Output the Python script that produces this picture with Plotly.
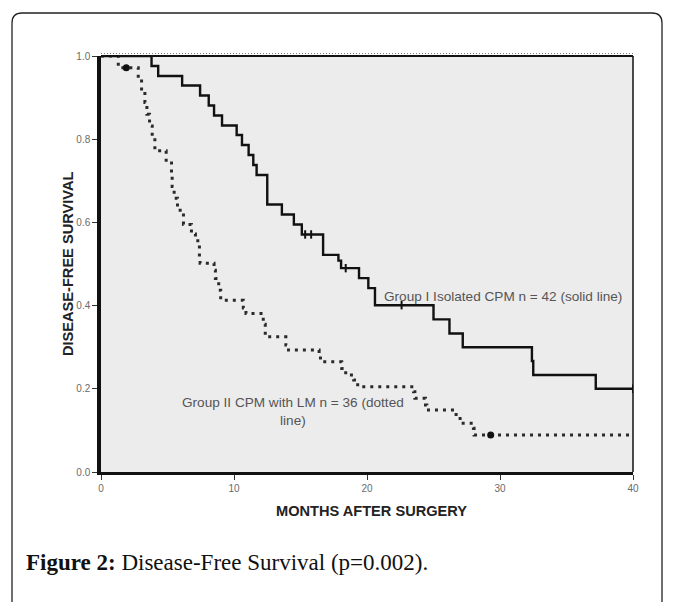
import plotly.graph_objects as go

# ---- data ----
g1_t = [0, 3.8, 4.3, 6.1, 7.45, 8.1, 8.5, 9.1, 10.2, 10.6, 11.1, 11.45, 11.7, 12.5, 13.6, 14.5,
        15.1, 16.7, 17.85, 18.05, 19.4, 20.1, 20.6, 25.0, 26.2, 27.2, 32.4, 32.5, 37.2, 40]
g1_s = [1.0, 0.976, 0.952, 0.929, 0.905, 0.881, 0.857, 0.833, 0.810, 0.786, 0.762, 0.738, 0.714,
        0.643, 0.619, 0.595, 0.571, 0.522, 0.508, 0.490, 0.466, 0.442, 0.401, 0.367, 0.333,
        0.300, 0.267, 0.233, 0.200, 0.200]
g1_cens_t = [15.35, 15.8, 18.4, 22.6, 40]
g1_cens_s = [0.571, 0.571, 0.490, 0.401, 0.200]

g2_t = [0, 1.3, 2.8, 3.05, 3.3, 3.45, 3.65, 3.85, 4.05, 4.9, 5.3, 5.35, 5.5, 5.75, 6.2, 6.8,
        7.1, 7.4, 7.45, 8.5, 8.6, 8.85, 9.0, 10.7, 10.9, 12.2, 12.35, 13.9, 14.1, 16.4, 16.5,
        18.1, 18.4, 19.0, 19.3, 23.5, 23.6, 24.4, 24.5, 26.7, 27.0, 28.0, 28.05, 40]
g2_s = [1.0, 0.972, 0.944, 0.916, 0.888, 0.860, 0.832, 0.804, 0.772, 0.743, 0.715, 0.686,
        0.658, 0.629, 0.595, 0.572, 0.556, 0.515, 0.502, 0.485, 0.465, 0.437, 0.413, 0.394,
        0.381, 0.355, 0.325, 0.305, 0.293, 0.280, 0.265, 0.249, 0.233, 0.221, 0.205, 0.193,
        0.177, 0.161, 0.149, 0.133, 0.117, 0.105, 0.089, 0.089]
g2_cens_t = [1.9, 29.3]
g2_cens_s = [0.972, 0.089]

x_ticks = [0, 10, 20, 30, 40]
y_ticks = [0.0, 0.2, 0.4, 0.6, 0.8, 1.0]

label_g1 = "Group I Isolated CPM n = 42 (solid line)"
label_g2 = "Group II CPM with LM n = 36 (dotted<br>line)"
x_title = "MONTHS AFTER SURGERY"
y_title = "DISEASE-FREE SURVIVAL"
caption = "<b>Figure 2:</b> Disease-Free Survival (p=0.002)."

# ---- layout geometry (screen pixels; page body adds an 8px offset) ----
OFF = 8
W, H = 675 - OFF, 610 - 2 * OFF
L, R, T, B = 101, 633, 56, 472          # plot area on screen
pw, ph = R - L, B - T


def px(x):
    return (x - L) / pw


def py(y):
    return (B - y) / ph


fig = go.Figure()
fig.add_trace(go.Scatter(x=g2_t, y=g2_s, mode="lines", line_shape="hv",
                         line=dict(color="#2a2a2a", width=3, dash="3px,5px"),
                         hoverinfo="skip", showlegend=False))
fig.add_trace(go.Scatter(x=g2_cens_t, y=g2_cens_s, mode="markers",
                         marker=dict(symbol="circle", size=7, color="#111"),
                         showlegend=False))
fig.add_trace(go.Scatter(x=g1_t, y=g1_s, mode="lines", line_shape="hv",
                         line=dict(color="#111", width=2.4),
                         showlegend=False))
fig.add_trace(go.Scatter(x=g1_cens_t, y=g1_cens_s, mode="markers",
                         marker=dict(symbol="line-ns", size=6, line=dict(color="#111", width=2)),
                         showlegend=False))

axis_font = dict(family="Liberation Sans, Arial", size=10, color="#6a6a6a")
fig.update_xaxes(range=[0, 40], tickvals=x_ticks, ticktext=[str(v) for v in x_ticks],
                 showgrid=False, zeroline=False, showline=True, linecolor="#111", linewidth=3,
                 ticks="outside", ticklen=5, tickcolor="#333", tickwidth=1, tickfont=axis_font)
fig.update_yaxes(range=[0, 1.0], tickvals=y_ticks, ticktext=["%.1f" % v for v in y_ticks],
                 showgrid=False, zeroline=False, showline=True, linecolor="#111", linewidth=3.5,
                 ticks="outside", ticklen=5, tickcolor="#333", tickwidth=1, tickfont=axis_font)

# rounded frame around the figure (bottom edge lies below the visible page)
fx0, fx1, fy0, fy1, r = 12, 662, 13, 640, 10
path = (f"M {px(fx0 + r)},{py(fy0)} L {px(fx1 - r)},{py(fy0)} Q {px(fx1)},{py(fy0)} {px(fx1)},{py(fy0 + r)} "
        f"L {px(fx1)},{py(fy1 - r)} Q {px(fx1)},{py(fy1)} {px(fx1 - r)},{py(fy1)} "
        f"L {px(fx0 + r)},{py(fy1)} Q {px(fx0)},{py(fy1)} {px(fx0)},{py(fy1 - r)} "
        f"L {px(fx0)},{py(fy0 + r)} Q {px(fx0)},{py(fy0)} {px(fx0 + r)},{py(fy0)} Z")
shapes = [
    dict(type="path", xref="paper", yref="paper", path=path, line=dict(color="#222", width=1.3), layer="below"),
    dict(type="line", xref="paper", yref="paper", x0=0, x1=1, y0=1, y1=1, line=dict(color="#111", width=2)),
    dict(type="line", xref="paper", yref="paper", x0=0, x1=1, y0=py(T - 2.5), y1=py(T - 2.5),
         line=dict(color="#777", width=1, dash="1px,2px")),
    dict(type="line", xref="paper", yref="paper", x0=1, x1=1, y0=0, y1=1, line=dict(color="#111", width=1.5)),
]

ann_font = dict(family="Liberation Sans, Arial", size=13.6, color="#555")
title_font = dict(family="Liberation Sans, Arial", size=14.6, color="#222")
annotations = [
    dict(x=px(382), y=py(296), xref="paper", yref="paper", text=label_g1, showarrow=False,
         xanchor="left", yanchor="middle", font=ann_font),
    dict(x=px(293), y=py(411), xref="paper", yref="paper", text=label_g2, showarrow=False,
         xanchor="center", yanchor="middle", align="center", font=ann_font),
    dict(x=px(371), y=py(511), xref="paper", yref="paper", text="<b>" + x_title + "</b>", showarrow=False,
         xanchor="center", yanchor="middle", font=title_font),
    dict(x=px(68), y=py(264), xref="paper", yref="paper", text="<b>" + y_title + "</b>", showarrow=False,
         textangle=-90, xanchor="center", yanchor="middle", font=title_font),
    dict(x=px(24), y=py(562), xref="paper", yref="paper", text=caption, showarrow=False,
         xanchor="left", yanchor="middle",
         font=dict(family="Liberation Serif, Times New Roman", size=23, color="#111")),
]

fig.update_layout(width=W, height=H,
                  margin=dict(l=L - OFF, r=W - (R - OFF), t=T - OFF, b=H - (B - OFF)),
                  plot_bgcolor="#ececec", paper_bgcolor="white",
                  shapes=shapes, annotations=annotations, showlegend=False)

fig.write_html("out.html")
